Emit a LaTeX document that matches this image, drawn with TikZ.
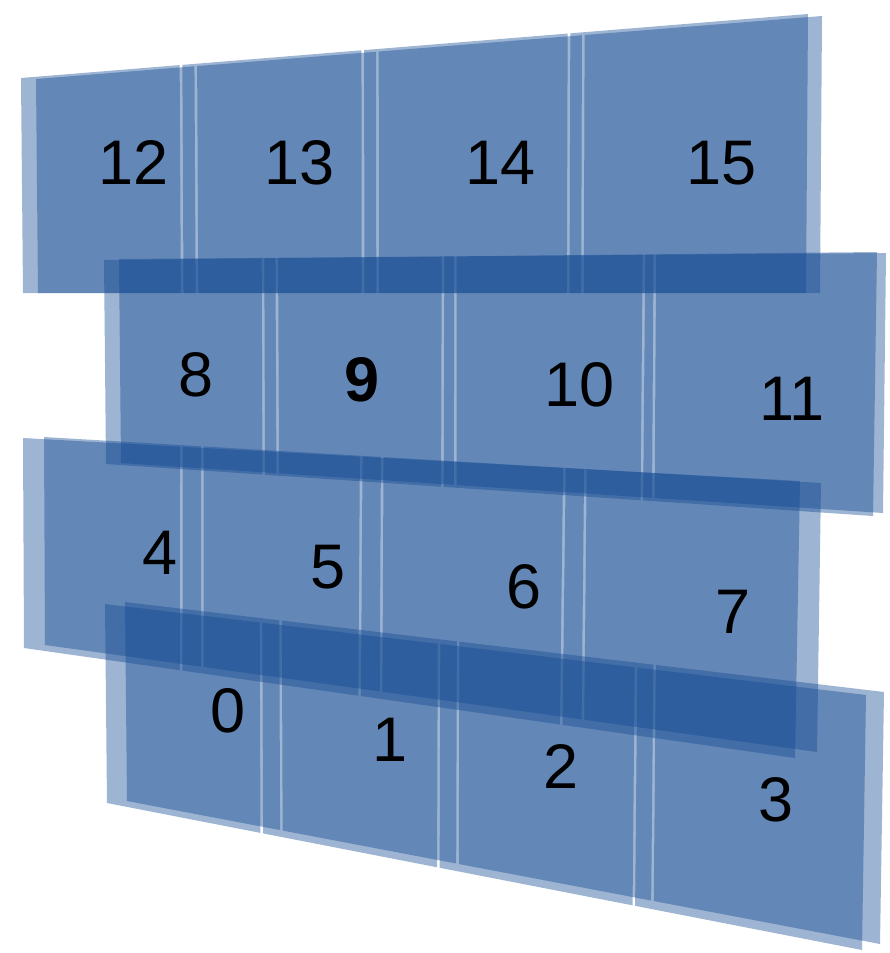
\documentclass[tikz,border=0pt]{standalone}
\usepackage{fontspec}
\setmainfont{Liberation Sans}
\usetikzlibrary{calc}
\definecolor{slab}{RGB}{17,72,145}
\tikzset{
  layer/.style={fill=slab, fill opacity=0.41},
  lbl/.style={inner sep=0pt, text=black, font=\fontsize{63}{70}\selectfont}
}
\newcommand\slabtile[6]{\fill[layer] ($(#1)!#5!(#2)$) -- ($(#1)!#6!(#2)$) -- ($(#4)!#6!(#3)$) -- ($(#4)!#5!(#3)$) -- cycle;}
\newcommand\slabrow[2]{%
  \foreach \lay in {B,F}{%
    \foreach \s/\e in {#2}{%
      \slabtile{#1\lay TL}{#1\lay TR}{#1\lay BR}{#1\lay BL}{\s}{\e}%
    }%
  }%
}
\begin{document}
\begin{tikzpicture}[x=1pt,y=-1pt]
\useasboundingbox (0,0) rectangle (890,953);
% row A : 12-15
\coordinate (aBTL) at (21,78);  \coordinate (aBTR) at (808,14);
\coordinate (aBBR) at (806,293); \coordinate (aBBL) at (23,293);
\coordinate (aFTL) at (36,79);  \coordinate (aFTR) at (822,16);
\coordinate (aFBR) at (820,293); \coordinate (aFBL) at (38,293);
% row B : 8-11
\coordinate (bBTL) at (104,260); \coordinate (bBTR) at (877,252);
\coordinate (bBBR) at (873,516); \coordinate (bBBL) at (106,464);
\coordinate (bFTL) at (119,259); \coordinate (bFTR) at (886,253);
\coordinate (bFBR) at (883,513); \coordinate (bFBL) at (121,463);
% row C : 4-7
\coordinate (cBTL) at (23,438);  \coordinate (cBTR) at (800,481);
\coordinate (cBBR) at (795,758); \coordinate (cBBL) at (24,648);
\coordinate (cFTL) at (44,437);  \coordinate (cFTR) at (821,483);
\coordinate (cFBR) at (817,752); \coordinate (cFBL) at (45,645);
% row D : 0-3
\coordinate (dBTL) at (105,604); \coordinate (dBTR) at (866,695);
\coordinate (dBBR) at (862,950); \coordinate (dBBL) at (107,803);
\coordinate (dFTL) at (125,602); \coordinate (dFTR) at (884,692);
\coordinate (dFBR) at (880,944); \coordinate (dFBL) at (127,801);

\slabrow{a}{0/0.2016, 0.2050/0.4326, 0.4360/0.6946, 0.6980/1}
\slabrow{b}{0/0.2040, 0.2074/0.4369, 0.4403/0.6969, 0.7003/1}
\slabrow{c}{0/0.2021, 0.2055/0.4336, 0.4370/0.6951, 0.6985/1}
\slabrow{d}{0/0.2033, 0.2067/0.4372, 0.4406/0.6961, 0.6995/1}

\node[lbl] (t12) at (134,163) {12};
\node[lbl] (t13) at (300,163) {13};
\node[lbl] (t14) at (501,163) {14};
\node[lbl] (t15) at (722,163) {15};
\node[lbl] (t8) at (196,375) {8};
\node[lbl] (t9) at (362,380) {\bfseries 9};
\node[lbl] (t10) at (580,385) {10};
\node[lbl] (t11) at (792,399) {11};
\node[lbl] (t4) at (160,553) {4};
\node[lbl] (t5) at (328,567) {5};
\node[lbl] (t6) at (524,587) {6};
\node[lbl] (t7) at (733,612) {7};
\node[lbl] (t0) at (228,711) {0};
\node[lbl] (t1) at (390,740) {1};
\node[lbl] (t2) at (561,766) {2};
\node[lbl] (t3) at (776,800) {3};
\end{tikzpicture}
\end{document}
